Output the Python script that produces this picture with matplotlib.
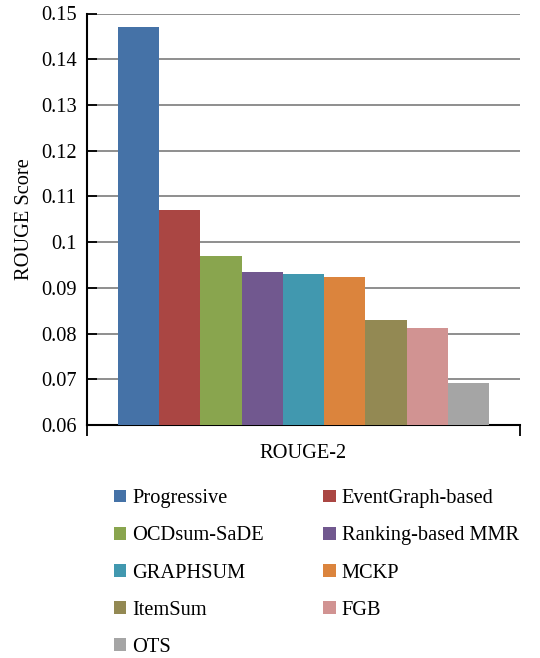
import matplotlib
matplotlib.use("Agg")
import matplotlib.pyplot as plt
from matplotlib.patches import Patch

methods = ["Progressive", "EventGraph-based", "OCDsum-SaDE", "Ranking-based MMR",
           "GRAPHSUM", "MCKP", "ItemSum", "FGB", "OTS"]
scores = [0.147, 0.107, 0.097, 0.0935, 0.0930, 0.0924, 0.0830, 0.0813, 0.0691]
colors = ["#4572A7", "#AA4643", "#89A54E", "#71588F", "#4198AF",
          "#DB843D", "#938953", "#D19392", "#A5A5A5"]
yticks = [0.06, 0.07, 0.08, 0.09, 0.1, 0.11, 0.12, 0.13, 0.14, 0.15]
ytick_labels = ["0.06", "0.07", "0.08", "0.09", "0.1", "0.11", "0.12", "0.13", "0.14", "0.15"]

plt.rcParams['font.family'] = ['Liberation Serif', 'DejaVu Serif']
FS = 14.7

fig = plt.figure(figsize=(5.4, 6.58), dpi=100)
ax = fig.add_axes([87/540, 1 - 425/658, (520-87)/540, (425-13.5)/658])

x = list(range(len(methods)))
ax.bar(x, scores, width=1.0, color=colors, bottom=0, zorder=3)
ax.set_ylim(0.06, 0.15)
ax.set_xlim(-1.25, len(methods) + 0.25)
ax.set_yticks(yticks)
ax.set_yticklabels(ytick_labels, fontsize=FS)
ax.yaxis.grid(True, color="#868686", linewidth=1.3, zorder=0)
ax.set_axisbelow(True)
ax.tick_params(axis='y', direction='in', length=7, width=1.3, color='black', pad=7.5)
ax.set_xticks([-1.25, len(methods) + 0.25])
ax.set_xticklabels(["", ""])
ax.tick_params(axis='x', direction='out', length=8, width=1.3, color='black')
for s in ["top", "right"]:
    ax.spines[s].set_visible(False)
for s in ["left", "bottom"]:
    ax.spines[s].set_linewidth(1.5)
    ax.spines[s].set_color("black")
ax.set_ylabel("ROUGE Score", fontsize=FS, labelpad=5)
ax.set_xlabel("ROUGE-2", fontsize=FS, labelpad=2)

handles = [Patch(facecolor=c, edgecolor='none', label=m) for m, c in zip(methods, colors)]
order = [0, 2, 4, 6, 8, 1, 3, 5, 7]
fig.legend([handles[i] for i in order], [methods[i] for i in order],
           ncol=2, loc='upper left', bbox_to_anchor=(104/540, 1 - 479/658),
           frameon=False, fontsize=FS, handlelength=0.6, handleheight=0.6,
           handletextpad=0.3, columnspacing=2.9, labelspacing=0.89, borderpad=0)

fig.savefig("out.png", dpi=100)
